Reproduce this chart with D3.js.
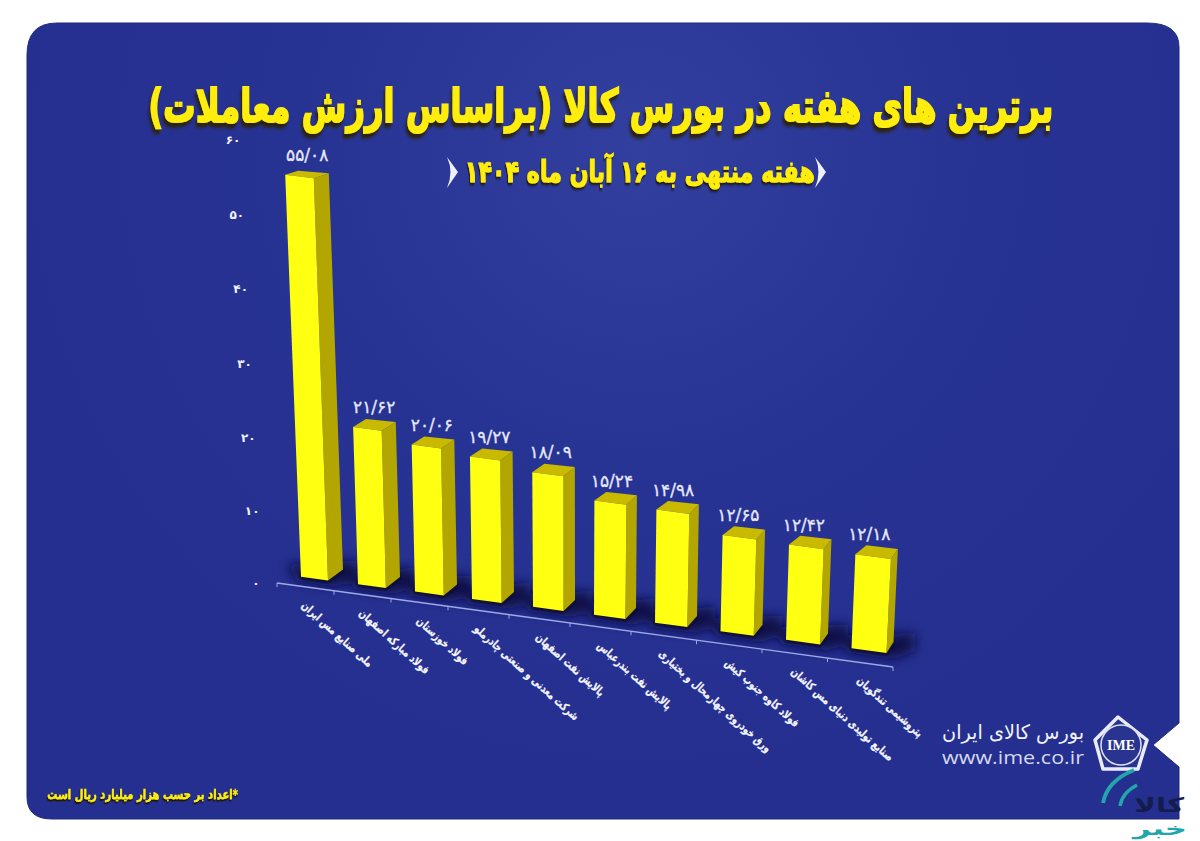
<!DOCTYPE html>
<html lang="fa">
<head>
<meta charset="utf-8">
<script src="https://cdn.jsdelivr.net/npm/d3@7"></script>
<style>
    html, body { margin: 0; padding: 0; background: #fff; }
    svg { display: block; }
    text { font-family: "DejaVu Sans", sans-serif; }
</style>
</head>
<body>
<svg id="chart" width="1200" height="841"></svg>
<script>
const categories = [
    "ملی صنایع مس ایران",
    "فولاد مبارکه اصفهان",
    "فولاد خوزستان",
    "شرکت معدنی و صنعتی چادرملو",
    "پالایش نفت اصفهان",
    "پالایش نفت بندرعباس",
    "ورق خودروی چهارمحال و بختیاری",
    "فولاد کاوه جنوب کیش",
    "صنایع تولیدی دنیای مس کاشان",
    "پتروشیمی تندگویان"
];
const values = [55.08, 21.62, 20.06, 19.27, 18.09, 15.24, 14.98, 12.65, 12.42, 12.18];
const valueLabels = ["۵۵/۰۸", "۲۱/۶۲", "۲۰/۰۶", "۱۹/۲۷", "۱۸/۰۹", "۱۵/۲۴", "۱۴/۹۸", "۱۲/۶۵", "۱۲/۴۲", "۱۲/۱۸"];
const yTicks = [0, 10, 20, 30, 40, 50, 60];
const yTickLabels = ["۰", "۱۰", "۲۰", "۳۰", "۴۰", "۵۰", "۶۰"];
const titleText = "برترین های هفته در بورس کالا (براساس ارزش معاملات)";
const subtitleText = "هفته منتهی به ۱۶ آبان ماه ۱۴۰۴";
const noteText = "*اعداد بر حسب هزار میلیارد ریال است";

let svg = d3.select("#chart");
let defs = svg.append("defs");

// panel background
let bg = defs.append("radialGradient").attr("id", "panelFill")
    .attr("gradientUnits", "userSpaceOnUse")
    .attr("cx", 640).attr("cy", 150).attr("r", 620);
bg.append("stop").attr("offset", 0).attr("stop-color", "#323f9f");
bg.append("stop").attr("offset", 0.55).attr("stop-color", "#273393");
bg.append("stop").attr("offset", 1).attr("stop-color", "#252f8f");

function blurFilter(id, amount) {
    defs.append("filter").attr("id", id)
        .attr("x", "-40%").attr("y", "-80%").attr("width", "180%").attr("height", "260%")
        .append("feGaussianBlur").attr("stdDeviation", amount);
}
blurFilter("blurWide", 6);
blurFilter("blurTight", 1.2);

let titleShadow = defs.append("filter").attr("id", "titleShadow").attr("x", "-5%").attr("y", "-30%").attr("width", "110%").attr("height", "170%");
titleShadow.append("feDropShadow").attr("dx", -2).attr("dy", 4).attr("stdDeviation", 1.2).attr("flood-color", "#2b2208");

let smallShadow = defs.append("filter").attr("id", "smallShadow").attr("x", "-5%").attr("y", "-30%").attr("width", "110%").attr("height", "170%");
smallShadow.append("feDropShadow").attr("dx", -1).attr("dy", 2).attr("stdDeviation", 0.7).attr("flood-color", "#1a1608");

svg.append("path")
    .attr("d", "M27 55Q27 23 57 23L1147 23Q1179 23 1179 47L1179 723L1153 745L1179 767L1179 819L52 819Q27 819 27 797Z")
    .attr("fill", "url(#panelFill)")
    .attr("stroke", "#1f2a7c")
    .attr("stroke-width", 1);

// ground positions, the picture is drawn in perspective so these are piecewise
let boundaryX = d3.scaleLinear().domain([0, 3, 6, 10]).range([277, 448, 631, 893]);
let groundY = d3.scaleLinear().domain([277, 893]).range([583, 667]);
let barH = d3.scalePow().exponent(1.014).domain([0, 60]).range([0, 443]);
let nearScale = d3.scaleLinear().domain([0, 9]).range([0.99, 1.07]);
let barW = d3.scaleLinear().domain([0, 9]).range([27, 35]);
let footLift = d3.scaleLinear().domain([0, 9]).range([9.5, 13]);
let sideDx = d3.scaleLinear().domain([0, 9]).range([15, 7]);
let backDx = d3.scaleLinear().domain([0, 9]).range([13, 11]);
let topDy = d3.scaleLinear().domain([12, 55]).range([10, 5]).clamp(true);
let labelDx = d3.scaleLinear().domain([0, 9]).range([22, 14]);
let catDx = d3.scaleLinear().domain([0, 9]).range([26, 31]);
let tickX = d3.scaleLinear().domain([0, 60]).range([256, 233]);
const slope = 0.136;

function lean(x, h) { return (x - 570) * h / 6850; }

let bars = values.map((v, i) => {
    let xl = boundaryX(i) + 24;
    let yl = groundY(boundaryX(i) + 24) - footLift(i);
    let w = barW(i);
    let h = barH(v) * nearScale(i);
    let xr = xl + w;
    let yr = yl + w * slope;
    let tl = [xl + lean(xl, h), yl - h];
    let tr = [xr + lean(xr, h), yr - h];
    let dx = sideDx(i);
    return {
        i, v, xl, yl, xr, yr, tl, tr,
        footBack: [xr + dx, yr - 11],
        topBackR: [tr[0] + dx, tr[1] - topDy(v)],
        topBackL: [tl[0] + backDx(i), tl[1] - topDy(v) + 1]
    };
});

function poly(pts) { return pts.map(p => p.join(",")).join(" "); }

// stretch a text to the width it has in the picture, keeps the letters joined
function fitWidth(sel, x, y, target, sy) {
    let natural = sel.node().getComputedTextLength();
    sel.attr("transform", "translate(" + x + "," + y + ") scale(" + (target / natural) + "," + sy + ")");
}

// shadows on the ground
svg.append("g").attr("filter", "url(#blurWide)")
    .selectAll("polygon")
    .data(bars)
    .enter()
    .append("polygon")
    .attr("points", d => poly([
        [d.xl - 14, d.yl - 12],
        [d.xr + 28, d.yr - 20],
        [d.xr + 28, d.yr - 2],
        [d.xr + 8, d.yr + 6],
        [d.xl - 4, d.yl + 4]
    ]))
    .attr("fill", "#0c1245")
    .attr("opacity", 0.95);

svg.append("g").attr("filter", "url(#blurTight)")
    .selectAll("polygon")
    .data(bars)
    .enter()
    .append("polygon")
    .attr("points", d => poly([
        [d.xl - 1, d.yl - 3],
        d.footBack,
        [d.footBack[0] + 1, d.footBack[1] + 2],
        [d.xr, d.yr + 2.5],
        [d.xl - 1, d.yl + 2]
    ]))
    .attr("fill", "#090c30");

// x axis line with ticks between the bars
let axis = svg.append("g").attr("stroke", "#9fa9e6").attr("fill", "none");
axis.append("line")
    .attr("x1", boundaryX(0)).attr("y1", groundY(boundaryX(0)))
    .attr("x2", boundaryX(10)).attr("y2", groundY(boundaryX(10)))
    .attr("stroke-width", 1.4);
axis.selectAll("line.tick")
    .data(d3.range(0, 11))
    .enter()
    .append("line")
    .attr("class", "tick")
    .attr("x1", d => boundaryX(d)).attr("y1", d => groundY(boundaryX(d)))
    .attr("x2", d => boundaryX(d)).attr("y2", d => groundY(boundaryX(d)) + 4)
    .attr("stroke-width", 1);

// bars
let barG = svg.selectAll("g.bar")
    .data(bars)
    .enter()
    .append("g")
    .attr("class", "bar");

barG.append("polygon")
    .attr("points", d => poly([d.tr, d.topBackR, d.footBack, [d.xr, d.yr]]))
    .attr("fill", "#b3a600");
barG.append("polygon")
    .attr("points", d => poly([d.tl, d.topBackL, d.topBackR, d.tr]))
    .attr("fill", "#c9ba00");
barG.append("polygon")
    .attr("points", d => poly([d.tl, d.tr, [d.xr, d.yr], [d.xl, d.yl]]))
    .attr("fill", "#ffff12");

// value labels
svg.selectAll("text.value")
    .data(bars)
    .enter()
    .append("text")
    .attr("class", "value")
    .attr("x", d => d.tl[0] + labelDx(d.i))
    .attr("y", d => d.tl[1] - 14)
    .attr("text-anchor", "middle")
    .attr("fill", "#e6e8fb")
    .attr("stroke", "#e6e8fb")
    .attr("stroke-width", 0.3)
    .style("font-size", "17px")
    .text(d => valueLabels[d.i]);

// y axis labels follow the slanted edge of the chart
svg.selectAll("text.ytick")
    .data(yTicks)
    .enter()
    .append("text")
    .attr("class", "ytick")
    .attr("x", d => tickX(d))
    .attr("y", d => 583 - barH(d) + 4)
    .attr("text-anchor", "middle")
    .attr("fill", "#f2f3fd")
    .style("font-size", "12px")
    .style("font-weight", "bold")
    .text((d, i) => yTickLabels[i]);

// category labels
svg.selectAll("text.cat")
    .data(categories)
    .enter()
    .append("text")
    .attr("class", "cat")
    .attr("direction", "rtl")
    .attr("text-anchor", "end")
    .attr("dominant-baseline", "middle")
    .attr("transform", (d, i) => {
        let x = boundaryX(i);
        return "translate(" + (x + catDx(i)) + "," + (groundY(x) + 21) + ") rotate(42) scale(0.76,1)";
    })
    .attr("fill", "#f4f5fd")
    .attr("stroke", "#f4f5fd")
    .attr("stroke-width", 0.25)
    .style("font-size", "11.5px")
    .style("font-weight", "bold")
    .text(d => d);

// title
let title = svg.append("text")
    .attr("direction", "rtl")
    .attr("text-anchor", "middle")
    .attr("fill", "#ffee10")
    .attr("stroke", "#ffee10")
    .attr("stroke-width", 1.6)
    .attr("filter", "url(#titleShadow)")
    .style("font-size", "40px")
    .style("font-weight", "bold")
    .text(titleText);
fitWidth(title, 601, 122, 905, 1.15);

let subtitle = svg.append("text")
    .attr("direction", "rtl")
    .attr("text-anchor", "middle")
    .attr("fill", "#ffee10")
    .attr("stroke", "#ffee10")
    .attr("stroke-width", 1)
    .attr("filter", "url(#smallShadow)")
    .style("font-size", "26px")
    .style("font-weight", "bold")
    .text(subtitleText);
fitWidth(subtitle, 640, 182, 350, 1.15);

// the two brackets around the subtitle
svg.selectAll("path.bracket")
    .data([447, 815])
    .enter()
    .append("path")
    .attr("class", "bracket")
    .attr("d", d => "M" + d + " 157L" + (d + 11) + " 172L" + d + " 188Q" + (d + 7) + " 172 " + d + " 157Z")
    .attr("fill", "#eef0fb");

// footnote
let note = svg.append("text")
    .attr("direction", "rtl")
    .attr("text-anchor", "start")
    .attr("fill", "#ffee10")
    .attr("stroke", "#ffee10")
    .attr("stroke-width", 0.4)
    .attr("filter", "url(#smallShadow)")
    .style("font-size", "13px")
    .style("font-weight", "bold")
    .text(noteText);
fitWidth(note, 238, 799, 191, 1.05);

// exchange logo
let logo = svg.append("g");
logo.append("polygon")
    .attr("points", "1118,717 1147,740 1138,769 1103,769 1095,740")
    .attr("fill", "#2a3592")
    .attr("stroke", "#e9ebf7")
    .attr("stroke-width", 3.5)
    .attr("stroke-linejoin", "round");
logo.append("circle")
    .attr("cx", 1121).attr("cy", 745).attr("r", 20)
    .attr("fill", "#28348f").attr("stroke", "#dfe2f4").attr("stroke-width", 1.5);
logo.append("text")
    .attr("x", 1121).attr("y", 750)
    .attr("text-anchor", "middle")
    .attr("fill", "#fff")
    .style("font-family", "'Liberation Serif', serif")
    .style("font-size", "14px")
    .style("font-weight", "bold")
    .text("IME");
let logoName = logo.append("text")
    .attr("direction", "rtl")
    .attr("text-anchor", "start")
    .attr("fill", "#f1f2fb")
    .style("font-size", "19px")
    .text("بورس کالای ایران");
fitWidth(logoName, 1084, 739, 142, 1.05);
let logoUrl = logo.append("text")
    .attr("text-anchor", "end")
    .attr("fill", "#d6daf2")
    .style("font-family", "'Open Sans', sans-serif")
    .style("font-size", "19px")
    .text("www.ime.co.ir");
fitWidth(logoUrl, 1084, 764, 142, 1);

// watermark in the corner
let mark = svg.append("g");
mark.append("path")
    .attr("d", "M1103 803Q1107 781 1134 770")
    .attr("fill", "none").attr("stroke", "#22a5ab").attr("stroke-width", 4);
mark.append("path")
    .attr("d", "M1120 806Q1122 793 1137 785")
    .attr("fill", "none").attr("stroke", "#22a5ab").attr("stroke-width", 3.5);
let markTop = mark.append("text")
    .attr("direction", "rtl")
    .attr("text-anchor", "start")
    .attr("fill", "#131c4c")
    .style("font-size", "20px")
    .style("font-weight", "bold")
    .text("کالا");
fitWidth(markTop, 1184, 812, 50, 1);
let markBottom = mark.append("text")
    .attr("direction", "rtl")
    .attr("text-anchor", "start")
    .attr("fill", "#22a5ab")
    .style("font-size", "18px")
    .style("font-weight", "bold")
    .text("خبر");
fitWidth(markBottom, 1187, 835, 54, 1);
</script>
</body>
</html>
